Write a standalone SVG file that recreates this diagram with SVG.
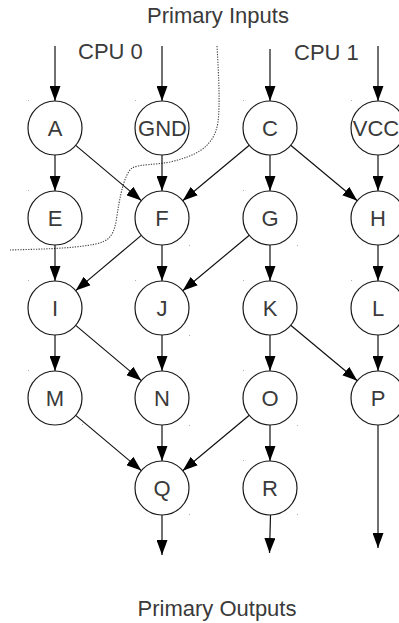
<svg xmlns="http://www.w3.org/2000/svg" width="399" height="623" viewBox="0 0 399 623">
  <style>
    .node circle { fill: #ffffff; stroke: #1a1a1a; stroke-width: 1.2; }
    .node text { font-family: "Liberation Sans", Arial, sans-serif; font-size: 22px; fill: #3a3a3a; text-anchor: middle; }
    .label { font-family: "Liberation Sans", Arial, sans-serif; font-size: 22px; fill: #3a3a3a; }
    .edge { stroke: #111111; stroke-width: 1.2; fill: none; marker-end: url(#arrow); }
    .boundary { stroke: #444444; stroke-width: 1.1; fill: none; stroke-dasharray: 1.3 1.3; }
    .mark { fill: #b0b0b0; }
  </style>
  <defs>
    <marker id="arrow" markerUnits="userSpaceOnUse" markerWidth="15" markerHeight="11" refX="15" refY="5.5" orient="auto">
      <path d="M0,0 L15,5.5 L0,11 z" fill="#000000"/>
    </marker>
  </defs>

  <rect width="399" height="623" fill="#ffffff"/>

  <!-- headings -->
  <text class="label" x="218" y="23" text-anchor="middle">Primary Inputs</text>
  <text class="label" x="78" y="59">CPU 0</text>
  <text class="label" x="294" y="60">CPU 1</text>
  <text class="label" x="217" y="616" text-anchor="middle" font-size="20.5">Primary Outputs</text>

  <!-- partition line between the two CPUs -->
  <path class="boundary" d="M217,46 C219,80 220,105 218,122 C214,148 195,156 170,162 C155,165 140,164 132,168 C124,175 120,195 116,222 C113,237 108,241 96,244 C70,249 40,249 10,250"/>

  <!-- connectors -->
  <g id="connectors">
    <line class="edge" x1="55" y1="46" x2="55" y2="101"/>
    <line class="edge" x1="162" y1="46" x2="162" y2="101"/>
    <line class="edge" x1="270" y1="49" x2="270" y2="101"/>
    <line class="edge" x1="378" y1="46" x2="378" y2="101"/>

    <line class="edge" x1="55" y1="155" x2="55" y2="191"/>
    <line class="edge" x1="75.7" y1="145.4" x2="141.3" y2="200.6"/>
    <line class="edge" x1="162" y1="155" x2="162" y2="191"/>
    <line class="edge" x1="249.3" y1="145.3" x2="182.7" y2="200.7"/>
    <line class="edge" x1="270" y1="155" x2="270" y2="191"/>
    <line class="edge" x1="290.7" y1="145.3" x2="357.3" y2="200.7"/>
    <line class="edge" x1="378" y1="155" x2="378" y2="191"/>

    <line class="edge" x1="55" y1="245" x2="55" y2="281"/>
    <line class="edge" x1="141.3" y1="235.4" x2="75.7" y2="290.6"/>
    <line class="edge" x1="162" y1="245" x2="162" y2="281"/>
    <line class="edge" x1="249.3" y1="235.3" x2="182.7" y2="290.7"/>
    <line class="edge" x1="270" y1="245" x2="270" y2="281"/>
    <line class="edge" x1="378" y1="245" x2="378" y2="281"/>

    <line class="edge" x1="55" y1="335" x2="55" y2="371"/>
    <line class="edge" x1="75.7" y1="325.4" x2="141.3" y2="380.6"/>
    <line class="edge" x1="162" y1="335" x2="162" y2="371"/>
    <line class="edge" x1="270" y1="335" x2="270" y2="371"/>
    <line class="edge" x1="290.7" y1="325.3" x2="357.3" y2="380.7"/>
    <line class="edge" x1="378" y1="335" x2="378" y2="371"/>

    <line class="edge" x1="75.7" y1="415.4" x2="141.3" y2="470.6"/>
    <line class="edge" x1="162" y1="425" x2="162" y2="461"/>
    <line class="edge" x1="249.3" y1="415.3" x2="182.7" y2="470.7"/>
    <line class="edge" x1="270" y1="425" x2="270" y2="461"/>

    <line class="edge" x1="162" y1="515" x2="162" y2="555"/>
    <line class="edge" x1="270.5" y1="515" x2="269.5" y2="553"/>
    <line class="edge" x1="378" y1="425" x2="378" y2="548"/>
  </g>

  <!-- nodes -->
  <g id="node-A" class="node"><circle cx="55" cy="128" r="27"/><text x="55" y="136">A</text></g>
  <g id="node-GND" class="node"><circle cx="162" cy="128" r="27"/><text x="162.5" y="136">GND</text></g>
  <g id="node-C" class="node"><circle cx="270" cy="128" r="27"/><text x="270" y="136">C</text></g>
  <g id="node-VCC" class="node"><circle cx="378" cy="128" r="27"/><text x="376" y="136">VCC</text></g>

  <g id="node-E" class="node"><circle cx="55" cy="218" r="27"/><text x="55" y="226">E</text></g>
  <g id="node-F" class="node"><circle cx="162" cy="218" r="27"/><text x="162" y="226">F</text></g>
  <g id="node-G" class="node"><circle cx="270" cy="218" r="27"/><text x="270" y="226">G</text></g>
  <g id="node-H" class="node"><circle cx="378" cy="218" r="27"/><text x="378" y="226">H</text></g>

  <g id="node-I" class="node"><circle cx="55" cy="308" r="27"/><text x="55" y="316">I</text></g>
  <g id="node-J" class="node"><circle cx="162" cy="308" r="27"/><text x="162" y="316">J</text></g>
  <g id="node-K" class="node"><circle cx="270" cy="308" r="27"/><text x="270" y="316">K</text></g>
  <g id="node-L" class="node"><circle cx="378" cy="308" r="27"/><text x="378" y="316">L</text></g>

  <g id="node-M" class="node"><circle cx="55" cy="398" r="27"/><text x="55" y="406">M</text></g>
  <g id="node-N" class="node"><circle cx="162" cy="398" r="27"/><text x="162" y="406">N</text></g>
  <g id="node-O" class="node"><circle cx="270" cy="398" r="27"/><text x="270" y="406">O</text></g>
  <g id="node-P" class="node"><circle cx="378" cy="398" r="27"/><text x="378" y="406">P</text></g>

  <g id="node-Q" class="node"><circle cx="162" cy="488" r="27"/><text x="162" y="496">Q</text></g>
  <g id="node-R" class="node"><circle cx="270" cy="488" r="27"/><text x="270" y="496">R</text></g>

  <!-- faint bounding-box corner specks -->
  <g id="corner-marks" class="mark">
    <rect x="28" y="100" width="1" height="1"/><rect x="135" y="100" width="1" height="1"/>
    <rect x="243" y="100" width="1" height="1"/><rect x="351" y="100" width="1" height="1"/>
    <rect x="28" y="190" width="1" height="1"/><rect x="189" y="245" width="1" height="1"/>
    <rect x="243" y="190" width="1" height="1"/><rect x="297" y="245" width="1" height="1"/>
    <rect x="28" y="280" width="1" height="1"/><rect x="135" y="280" width="1" height="1"/>
    <rect x="243" y="280" width="1" height="1"/><rect x="351" y="280" width="1" height="1"/>
    <rect x="189" y="335" width="1" height="1"/>
    <rect x="28" y="370" width="1" height="1"/><rect x="82" y="424" width="1" height="1"/>
    <rect x="189" y="425" width="1" height="1"/>
    <rect x="243" y="370" width="1" height="1"/><rect x="297" y="425" width="1" height="1"/>
    <rect x="243" y="460" width="1" height="1"/>
    <rect x="189" y="514" width="1" height="1"/><rect x="297" y="514" width="1" height="1"/>
  </g>
</svg>
